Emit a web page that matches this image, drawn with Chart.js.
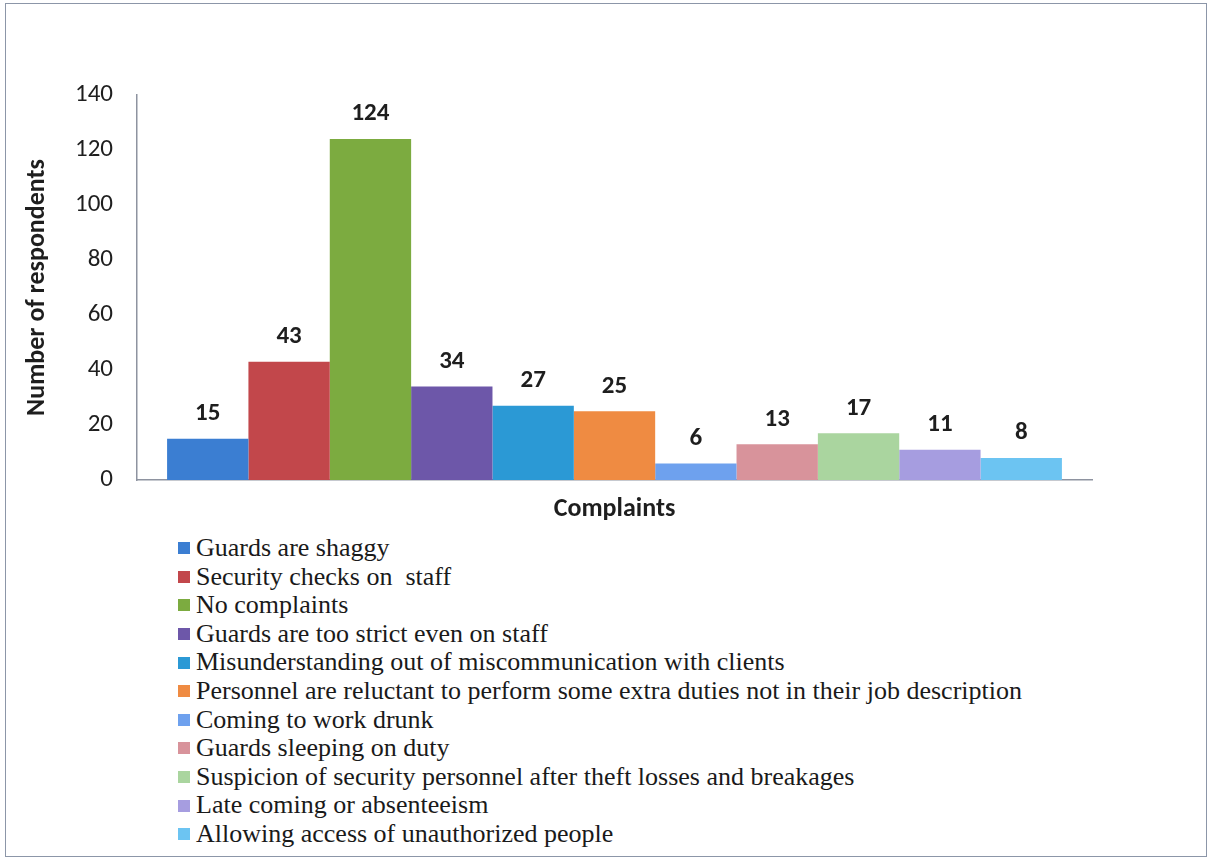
<!DOCTYPE html>
<html>
<head>
<meta charset="utf-8">
<script src="https://cdn.jsdelivr.net/npm/chart.js@4"></script>
<style>
  body { margin: 0; background: #fff; }
  #frame {
    position: absolute; left: 5px; top: 3px; width: 1202px; height: 854px;
    border: 1px solid #8c96a8; box-sizing: border-box;
  }
  #wrap { position: absolute; left: 0; top: 0; width: 1214px; height: 530px; }
  #legend {
    position: absolute; left: 178px; top: 534px; margin: 0; padding: 0;
    list-style: none; color: #1a1a1a; line-height: 28.6px;
  }
  #legend li { display: flex; align-items: center; white-space: pre; }
  #legend span.box { width: 12px; height: 12px; margin-right: 6px; flex: none; }
</style>
</head>
<body>
<div id="frame"></div>
<div id="wrap"><canvas id="chart"></canvas></div>
<ul id="legend"></ul>
<script>
// complaints about security personnel, one bar per complaint
const complaints = [
  'Guards are shaggy',
  'Security checks on  staff',
  'No complaints',
  'Guards are too strict even on staff',
  'Misunderstanding out of miscommunication with clients',
  'Personnel are reluctant to perform some extra duties not in their job description',
  'Coming to work drunk',
  'Guards sleeping on duty',
  'Suspicion of security personnel after theft losses and breakages',
  'Late coming or absenteeism',
  'Allowing access of unauthorized people'
];
const respondents = [15, 43, 124, 34, 27, 25, 6, 13, 17, 11, 8];
const barColors = [
  '#3b7ed2', '#c2474b', '#7cab40', '#6d57a9', '#2b99d5', '#ef8b42',
  '#6ea1ee', '#d8939b', '#aad59f', '#a69de0', '#6cc4f2'
];
const yTicks = [0, 20, 40, 60, 80, 100, 120, 140];

// value above each bar
const barValues = {
  id: 'barValues',
  afterDatasetsDraw(chart) {
    const ctx = chart.ctx;
    ctx.save();
    ctx.font = 'bold 25px Carlito';
    ctx.fillStyle = '#1e1e1e';
    ctx.textAlign = 'center';
    ctx.textBaseline = 'middle';
    chart.data.datasets.forEach((ds, i) => {
      const bar = chart.getDatasetMeta(i).data[0];
      ctx.fillText(ds.data[0], bar.x, bar.y - 25);
    });
    ctx.restore();
  }
};

const chart = new Chart(document.getElementById('chart'), {
  type: 'bar',
  data: {
    labels: [''],
    datasets: complaints.map((c, i) => ({
      label: c,
      data: [respondents[i]],
      backgroundColor: barColors[i],
      barPercentage: 1,
      categoryPercentage: 0.937
    }))
  },
  options: {
    responsive: true,
    maintainAspectRatio: false,
    animation: false,
    layout: { padding: { left: 18, right: 122, top: 95, bottom: 0 } },
    plugins: {
      legend: { display: false },
      tooltip: { enabled: false }
    },
    scales: {
      x: {
        grid: { display: false, drawTicks: false },
        border: { color: '#8e93a0', width: 1.5 },
        ticks: { display: false },
        title: {
          display: true, text: 'Complaints',
          font: { family: 'Carlito', weight: 'bold', size: 26 }, color: '#1e1e1e',
          padding: { top: 10, bottom: 5 }
        },
        afterFit: s => { s.height = 50; }
      },
      y: {
        min: 0, max: 140,
        afterBuildTicks: s => { s.ticks = yTicks.map(v => ({ value: v })); },
        grid: { display: false, drawTicks: false },
        border: { color: '#8e93a0', width: 1.5 },
        ticks: { padding: 24, font: { family: 'Carlito', size: 25 }, color: '#1e1e1e' },
        title: {
          display: true, text: 'Number of respondents',
          font: { family: 'Carlito', weight: 'bold', size: 26 }, color: '#1e1e1e',
          padding: { top: 4, bottom: 0 }
        },
        afterFit: s => { s.width = 119; }
      }
    }
  },
  plugins: [barValues]
});

// legend list, one complaint per line
const legendEl = document.getElementById('legend');
legendEl.style.fontFamily = '"Liberation Serif", "Times New Roman", monospace';
legendEl.style.fontSize = '26px';
chart.options.plugins.legend.labels.generateLabels(chart).forEach(item => {
  const li = document.createElement('li');
  const box = document.createElement('span');
  box.className = 'box';
  box.style.background = item.fillStyle;
  li.appendChild(box);
  li.appendChild(document.createTextNode(item.text));
  legendEl.appendChild(li);
});
</script>
</body>
</html>
